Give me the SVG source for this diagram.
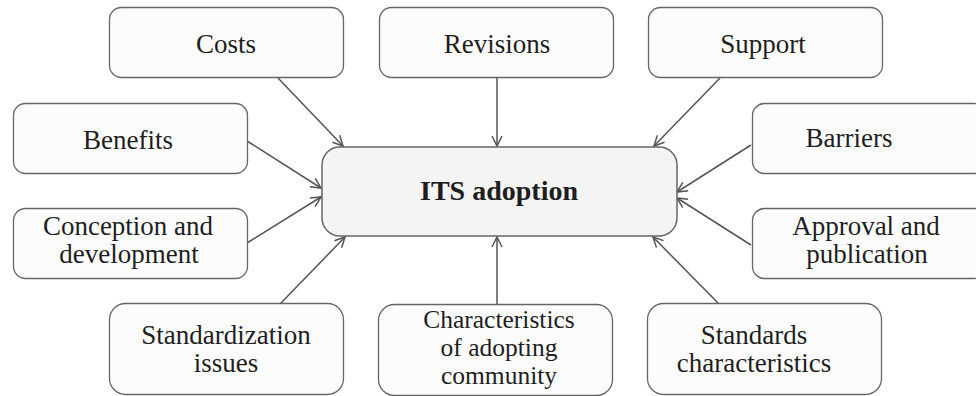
<svg xmlns="http://www.w3.org/2000/svg" width="976" height="396" viewBox="0 0 976 396">
<defs>
<marker id="arr" viewBox="0 0 12 12" refX="11" refY="6" markerWidth="12" markerHeight="12" markerUnits="userSpaceOnUse" orient="auto">
<path d="M1,1 L11,6 L1,11" fill="none" stroke="#555" stroke-width="1.5"/>
</marker>
<style>
.box{fill:#fcfcfc;stroke:#666;stroke-width:1.3}
.ctr{fill:#f4f4f4;stroke:#666;stroke-width:1.5}
.t{font-size:27px;fill:#1e1e1e;text-anchor:middle}
.b{font-weight:bold;font-size:28px}
.s{font-size:25.5px}
.c line{stroke:#555;stroke-width:1.5;marker-end:url(#arr)}
</style>
</defs>
<rect width="976" height="396" fill="#ffffff"/>
<g class="c" id="connectors">
<line x1="278" y1="78" x2="343" y2="146"/>
<line x1="497" y1="78" x2="497" y2="146"/>
<line x1="720" y1="78" x2="654" y2="146"/>
<line x1="247" y1="141" x2="321" y2="188"/>
<line x1="751" y1="145" x2="677" y2="192"/>
<line x1="247" y1="243" x2="321" y2="197"/>
<line x1="751" y1="245" x2="677" y2="198"/>
<line x1="280" y1="304" x2="345" y2="237"/>
<line x1="497" y1="305" x2="497" y2="237"/>
<line x1="719" y1="304" x2="653" y2="237"/>
</g>
<g class="t" font-family="Liberation Serif, DejaVu Serif, serif">
<g id="center"><rect class="ctr" x="322" y="147" width="355" height="89" rx="18"/><text class="b" x="499" y="200">ITS adoption</text></g>
<g id="costs"><rect class="box" x="109.5" y="7.5" width="234" height="70" rx="12"/><text x="226" y="53">Costs</text></g>
<g id="revisions"><rect class="box" x="379.5" y="7.5" width="234" height="70" rx="12"/><text x="497" y="53">Revisions</text></g>
<g id="support"><rect class="box" x="648.5" y="7.5" width="234" height="70" rx="12"/><text x="763" y="53">Support</text></g>
<g id="benefits"><rect class="box" x="13.5" y="103.5" width="234" height="70" rx="12"/><text x="128" y="149">Benefits</text></g>
<g id="barriers"><rect class="box" x="752.5" y="103.5" width="234" height="70" rx="12"/><text x="849" y="147">Barriers</text></g>
<g id="conception"><rect class="box" x="13.5" y="208.5" width="234" height="70" rx="12"/><text x="128" y="235">Conception and</text><text x="129" y="263">development</text></g>
<g id="approval"><rect class="box" x="752.5" y="208.5" width="234" height="70" rx="12"/><text x="866" y="235">Approval and</text><text x="867" y="263">publication</text></g>
<g id="standardization"><rect class="box" x="109.5" y="303.5" width="234" height="91" rx="16"/><text x="226" y="344">Standardization</text><text x="226" y="372">issues</text></g>
<g id="characteristics"><rect class="box" x="378.5" y="304.5" width="234" height="91" rx="16"/><text class="s" x="499" y="328">Characteristics</text><text class="s" x="499" y="356">of adopting</text><text class="s" x="499" y="384">community</text></g>
<g id="standards"><rect class="box" x="647.5" y="303.5" width="234" height="91" rx="16"/><text x="754" y="344">Standards</text><text x="754" y="372">characteristics</text></g>
</g>
</svg>
